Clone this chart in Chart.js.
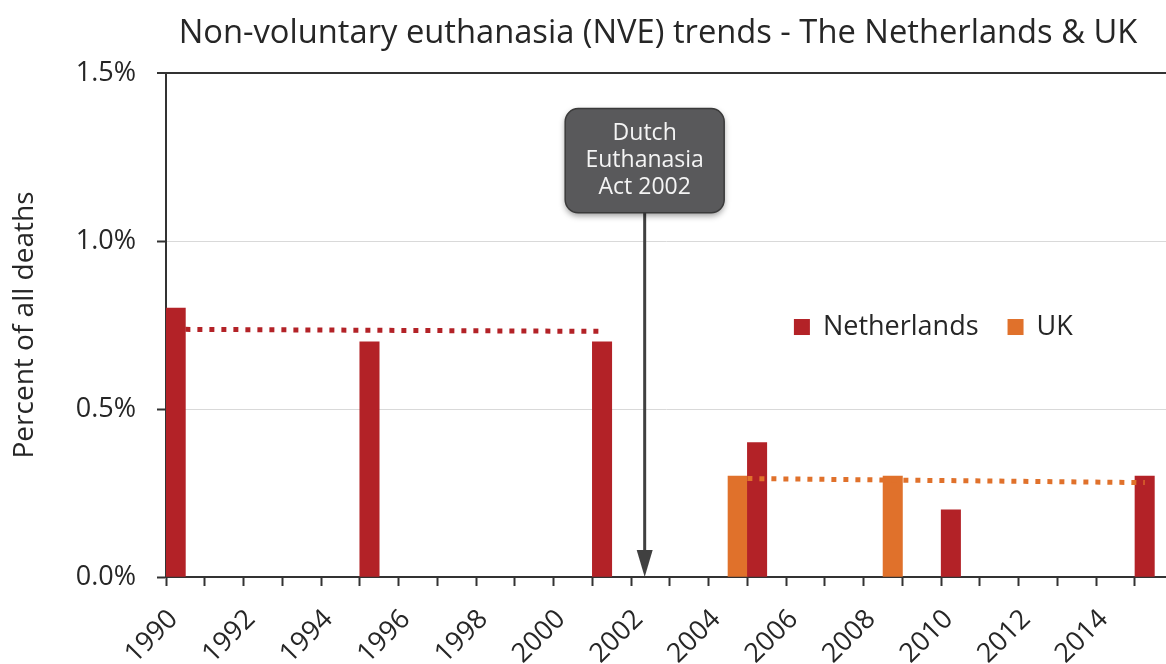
<!DOCTYPE html>
<html><head><meta charset="utf-8">
<script src="https://cdn.jsdelivr.net/npm/chart.js@4.4.0/dist/chart.umd.min.js"></script>
<style>html,body{margin:0;padding:0;background:#fff}</style>
</head><body>
<canvas id="c" width="1166" height="664"></canvas>
<script>
// ---- data ----
const nlYears = [1990, 1995, 2001, 2005, 2010, 2015];
const nlValues = [0.8, 0.7, 0.7, 0.4, 0.2, 0.3];
const ukYears = [2005, 2009];
const ukValues = [0.3, 0.3];
const nlTrendYears = [1990.5, 2001.25];
const nlTrendValues = [0.737, 0.731];
const ukTrendYears = [2005, 2015.25];
const ukTrendValues = [0.293, 0.281];
const tickYears = [1990,1991,1992,1993,1994,1995,1996,1997,1998,1999,2000,2001,2002,2003,2004,2005,2006,2007,2008,2009,2010,2011,2012,2013,2014,2015];
const labelYears = [1990,1992,1994,1996,1998,2000,2002,2004,2006,2008,2010,2012,2014];
const yTickValues = [0, 0.5, 1.0, 1.5];
const actYear = 2002.35;
const actLines = ['Dutch', 'Euthanasia', 'Act 2002'];
const seriesNames = ['Netherlands', 'UK'];
const titleText = 'Non-voluntary euthanasia (NVE) trends - The Netherlands & UK';
const yTitle = 'Percent of all deaths';

const NL = '#B32227', UK = '#E0712B', TXT = '#262626', AX = '#333333';
const FONT = "'Open Sans', 'DejaVu Sans', sans-serif";

const zip = (xs, ys, dx) => xs.map((x, i) => ({x: x + dx, y: ys[i]}));

const titlePlugin = {
  id: 'ctitle',
  afterDraw(chart) {
    const {ctx, chartArea} = chart;
    ctx.save();
    ctx.font = '32.7px ' + FONT; ctx.fillStyle = TXT;
    ctx.textAlign = 'center'; ctx.textBaseline = 'middle';
    ctx.fillText(titleText, (chartArea.left + chartArea.right) / 2 - 8, chartArea.top - 39);
    ctx.restore();
  }
};

const annotationPlugin = {
  id: 'act',
  afterDatasetsDraw(chart) {
    const {ctx, scales: {x, y}} = chart;
    const cx = x.getPixelForValue(actYear);
    const top = y.getPixelForValue(1.394), bot = y.getPixelForValue(1.084);
    const w = 159, r = 13, left = cx - w / 2;
    const base = y.getPixelForValue(0);
    ctx.save();
    ctx.strokeStyle = '#404040'; ctx.fillStyle = '#404040'; ctx.lineWidth = 3;
    ctx.beginPath(); ctx.moveTo(cx, bot); ctx.lineTo(cx, base - 26); ctx.stroke();
    ctx.beginPath(); ctx.moveTo(cx - 8, base - 27); ctx.lineTo(cx + 8, base - 27); ctx.lineTo(cx, base); ctx.closePath(); ctx.fill();
    ctx.shadowColor = 'rgba(0,0,0,0.4)'; ctx.shadowBlur = 6; ctx.shadowOffsetY = 3;
    ctx.beginPath(); ctx.roundRect(left, top, w, bot - top, r);
    ctx.fillStyle = '#59595b'; ctx.fill();
    ctx.shadowColor = 'transparent';
    ctx.lineWidth = 1.5; ctx.strokeStyle = '#3a3a3a'; ctx.stroke();
    ctx.fillStyle = '#f4f4f4'; ctx.font = '23px ' + FONT; ctx.textAlign = 'center'; ctx.textBaseline = 'middle';
    const mid = (top + bot) / 2;
    actLines.forEach((t, i) => ctx.fillText(t, cx, mid + (i - 1) * 27));
    ctx.restore();
  }
};

const legendPlugin = {
  id: 'inlegend',
  afterDraw(chart) {
    const {ctx, scales: {x, y}} = chart;
    const yy = y.getPixelForValue(0.744);
    let xx = x.getPixelForValue(2006.2);
    ctx.save();
    ctx.font = '27px ' + FONT; ctx.textBaseline = 'middle'; ctx.textAlign = 'left';
    [NL, UK].forEach((c, i) => {
      ctx.fillStyle = c; ctx.fillRect(xx, yy - 8, 16, 16);
      ctx.fillStyle = TXT; ctx.fillText(seriesNames[i], xx + 29, yy);
      xx += 29 + ctx.measureText(seriesNames[i]).width + 29;
    });
    ctx.restore();
  }
};

new Chart(document.getElementById('c'), {
  type: 'bar',
  data: {
    datasets: [
      {type: 'line', data: zip(nlTrendYears, nlTrendValues, 0), borderColor: NL, borderWidth: 5, borderDash: [5, 7], pointRadius: 0, fill: false, order: 0},
      {type: 'line', data: zip(ukTrendYears, ukTrendValues, 0), borderColor: UK, borderWidth: 5, borderDash: [5, 7], pointRadius: 0, fill: false, order: 0},
      {label: seriesNames[0], data: zip(nlYears, nlValues, 0.25), backgroundColor: NL, order: 1},
      {label: seriesNames[1], data: zip(ukYears, ukValues, -0.25), backgroundColor: UK, order: 1}
    ]
  },
  options: {
    responsive: false,
    animation: false,
    layout: {padding: {left: 0, right: 0, top: 73, bottom: 0}},
    datasets: {bar: {grouped: false, barPercentage: 1, categoryPercentage: 1}},
    plugins: {
      legend: {display: false},
      tooltip: {enabled: false},
      title: {display: false}
    },
    scales: {
      x: {
        type: 'linear', min: 1990, max: 2015.8, offset: false,
        afterBuildTicks: s => { s.ticks = tickYears.map(v => ({value: v})); },
        afterFit: s => { s.height = 87; s.paddingLeft = 0; s.paddingRight = 0; },
        grid: {offset: false, drawOnChartArea: false, tickLength: 9, tickColor: AX, tickWidth: 2},
        border: {color: AX, width: 2},
        ticks: {minRotation: 45, maxRotation: 45, autoSkip: false, color: TXT, labelOffset: 7.5, padding: 17.5,
          font: {family: FONT, size: 27},
          callback: v => labelYears.includes(v) ? String(v) : ''}
      },
      y: {
        min: 0, max: 1.5,
        afterBuildTicks: s => { s.ticks = yTickValues.map(v => ({value: v})); },
        afterFit: s => { s.width = 166; s.paddingTop = 0; },
        grid: {color: c => (c.tick && c.tick.value === 1.5) ? AX : '#d9d9d9',
               lineWidth: c => (c.tick && c.tick.value === 1.5) ? 2 : 1,
               tickLength: 9, tickColor: AX, tickWidth: 2},
        border: {color: AX, width: 2},
        ticks: {color: TXT, padding: 21, font: {family: FONT, size: 27},
          callback: v => v.toFixed(1) + '%'},
        title: {display: true, text: yTitle, color: TXT, font: {family: FONT, size: 28}, padding: {top: 8, bottom: 0}}
      }
    }
  },
  plugins: [titlePlugin, annotationPlugin, legendPlugin]
});
</script>
</body></html>
